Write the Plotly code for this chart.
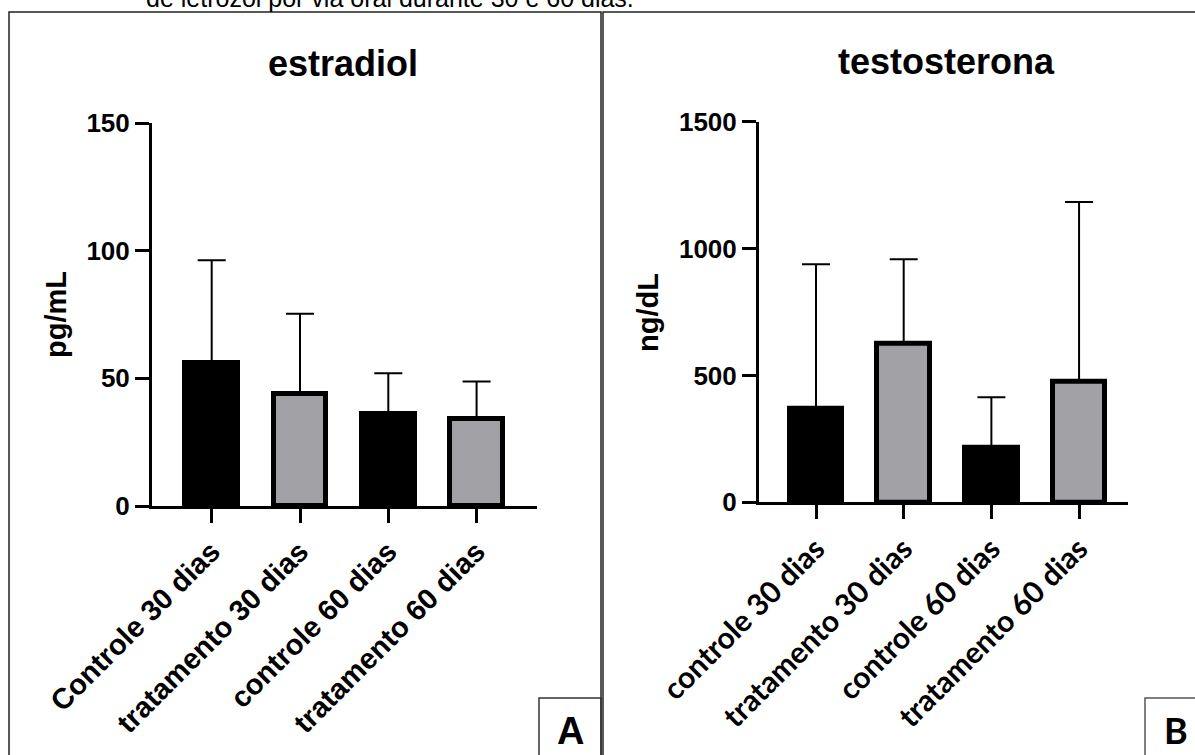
import plotly.graph_objects as go

W, H = 1195, 755

# ---- data ----
cats_e = ["Controle 30 dias", "tratamento 30 dias", "controle 60 dias", "tratamento 60 dias"]
estradiol_mean = [56.0, 43.7, 36.0, 33.9]
estradiol_upper = [96.2, 75.3, 52.0, 48.8]
estradiol_ticks = [0, 50, 100, 150]

cats_t = ["controle 30 dias", "tratamento 30 dias", "controle 60 dias", "tratamento 60 dias"]
testo_mean = [367, 626, 215, 475]
testo_upper = [938, 958, 414, 1184]
testo_ticks = [0, 500, 1000, 1500]

bar_colors = ["#000000", "#a2a1a6", "#000000", "#a2a1a6"]

ARIAL = "Liberation Sans, Arial, sans-serif"
CALIBRI = "Lato, Carlito, Calibri, sans-serif"


def px(x):
    return x / W


def py(y):
    return 1 - y / H


fig = go.Figure()

fig.add_trace(go.Bar(
    x=list(range(4)), y=estradiol_mean, width=0.6,
    marker=dict(color=bar_colors, line=dict(color="black", width=5)),
    error_y=dict(type="data", symmetric=False,
                 array=[u - m for u, m in zip(estradiol_upper, estradiol_mean)],
                 arrayminus=[0] * 4, color="black", thickness=2, width=14),
    xaxis="x", yaxis="y", showlegend=False, hoverinfo="skip"))

fig.add_trace(go.Bar(
    x=list(range(4)), y=testo_mean, width=0.6,
    marker=dict(color=bar_colors, line=dict(color="black", width=5)),
    error_y=dict(type="data", symmetric=False,
                 array=[u - m for u, m in zip(testo_upper, testo_mean)],
                 arrayminus=[0] * 4, color="black", thickness=2, width=14),
    xaxis="x2", yaxis="y2", showlegend=False, hoverinfo="skip"))

common_x = dict(showline=True, linewidth=3, linecolor="black", ticks="outside",
                ticklen=14, tickwidth=3, tickcolor="black", showgrid=False,
                zeroline=False, tickangle=-45, automargin=False, tickmode="array",
                tickvals=list(range(4)))
common_y = dict(showline=True, linewidth=3, linecolor="black", ticks="outside",
                ticklen=14, tickwidth=3, tickcolor="black", showgrid=False,
                zeroline=False, automargin=False, tickmode="array",
                tickfont=dict(family=ARIAL, size=26, color="black", weight="bold"))

fig.update_layout(
    width=W, height=H, autosize=False,
    margin=dict(l=0, r=0, t=0, b=0, pad=0),
    paper_bgcolor="white", plot_bgcolor="white",
    bargap=0,
    xaxis=dict(domain=[px(152), px(537)], range=[-0.676, 3.684], anchor="y",
               ticktext=cats_e,
               tickfont=dict(family=ARIAL, size=29, color="black", weight="bold"),
               **common_x),
    yaxis=dict(domain=[py(506), py(123)], range=[0, 150], anchor="x",
               tickvals=estradiol_ticks, **common_y),
    xaxis2=dict(domain=[px(759), px(1128)], range=[-0.65, 3.558], anchor="y2",
                ticktext=cats_t,
                tickfont=dict(family=CALIBRI, size=30, color="black", weight="bold"),
                **common_x),
    yaxis2=dict(domain=[py(502.3), py(121.7)], range=[0, 1500], anchor="x2",
                tickvals=testo_ticks, **common_y),
)

# panel frames and label boxes
shapes = [
    dict(type="rect", xref="paper", yref="paper", x0=px(9), x1=px(601), y0=-0.05, y1=py(12),
         line=dict(color="#222", width=1.5)),
    dict(type="rect", xref="paper", yref="paper", x0=px(603), x1=1.05, y0=-0.05, y1=py(12),
         line=dict(color="#222", width=1.5)),
    dict(type="rect", xref="paper", yref="paper", x0=px(539), x1=px(601), y0=-0.05, y1=py(698),
         line=dict(color="#333", width=1.5)),
    dict(type="rect", xref="paper", yref="paper", x0=px(1145), x1=1.05, y0=-0.05, y1=py(698),
         line=dict(color="#555", width=1.5)),
]
fig.update_layout(shapes=shapes)

ann = [
    dict(text="de letrozol por via oral durante 30 e 60 dias.", x=px(390), y=py(-2),
         font=dict(family=ARIAL, size=25, color="black")),
    dict(text="estradiol", x=px(343), y=py(63),
         font=dict(family=ARIAL, size=36, color="black", weight="bold")),
    dict(text="testosterona", x=px(946), y=py(62),
         font=dict(family=ARIAL, size=36, color="black", weight="bold")),
    dict(text="pg/mL", x=px(56), y=py(315), textangle=-90,
         font=dict(family=ARIAL, size=29, color="black", weight="bold")),
    dict(text="ng/dL", x=px(648), y=py(312), textangle=-90,
         font=dict(family=ARIAL, size=29, color="black", weight="bold")),
    dict(text="A", x=px(570), y=py(731),
         font=dict(family=ARIAL, size=38, color="black", weight="bold")),
    dict(text="B", x=px(1176), y=py(730),
         font=dict(family=CALIBRI, size=36, color="black", weight="bold")),
]
for a in ann:
    a.update(xref="paper", yref="paper", showarrow=False, xanchor="center", yanchor="middle")
fig.update_layout(annotations=ann)

fig.write_html("out.html")
